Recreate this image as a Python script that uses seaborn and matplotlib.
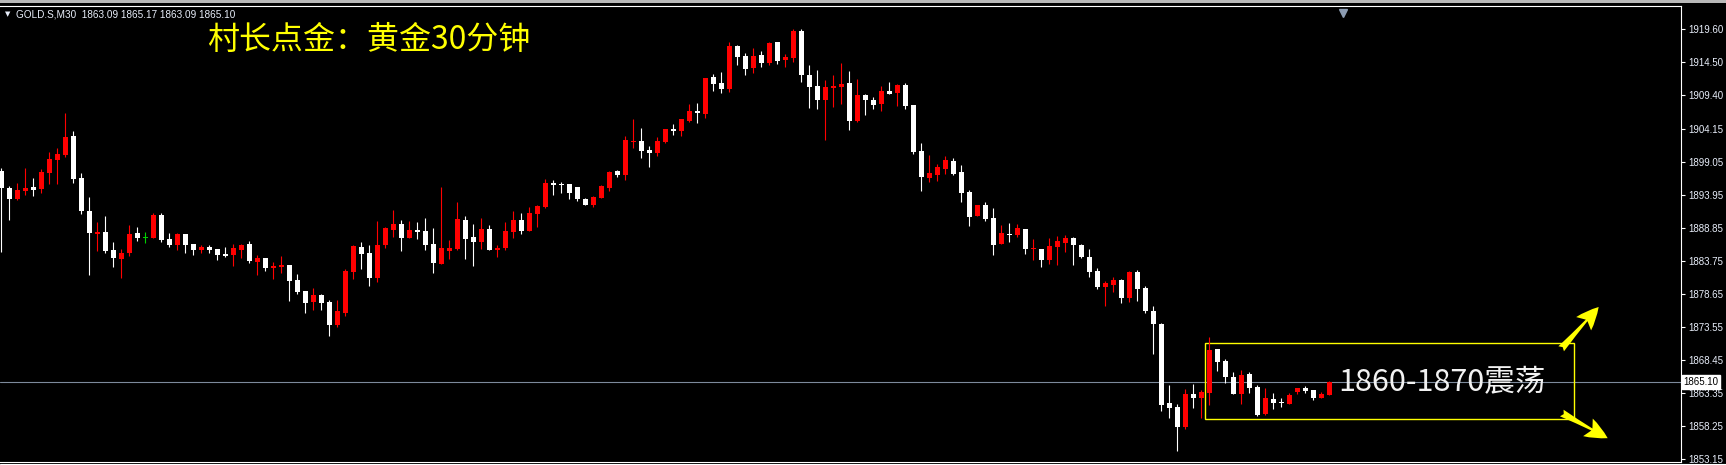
import numpy as np
import pandas as pd
import matplotlib
matplotlib.use("Agg")
import matplotlib.pyplot as plt
import seaborn as sns
from matplotlib.patches import Rectangle, FancyArrowPatch
from matplotlib.lines import Line2D

# GOLD.S M30 candles (oldest first)
opens = [
    1897.70, 1895.12, 1893.32, 1894.61, 1895.23, 1894.92, 1897.39, 1899.40, 1900.12, 1903.16,
    1896.62, 1891.57, 1887.96, 1888.27, 1885.49, 1884.10, 1885.08, 1888.07, 1887.45, 1887.40,
    1890.90, 1887.24, 1886.26, 1887.96, 1886.42, 1885.54, 1886.01, 1885.64, 1884.87, 1884.72,
    1885.54, 1886.47, 1883.69, 1884.25, 1882.76, 1882.86, 1883.17, 1880.85, 1879.15, 1877.50,
    1878.53, 1877.45, 1873.90, 1875.70, 1882.14, 1885.95, 1885.03, 1881.21, 1886.26, 1888.58,
    1889.51, 1887.35, 1888.58, 1888.43, 1886.42, 1883.38, 1885.39, 1885.64, 1890.13, 1887.50,
    1886.73, 1888.74, 1885.54, 1885.80, 1888.27, 1890.13, 1888.43, 1891.05, 1892.14, 1895.85,
    1895.74, 1895.69, 1895.23, 1893.37, 1892.45, 1893.53, 1895.07, 1897.70, 1897.08, 1902.18,
    1902.34, 1900.95, 1900.48, 1902.18, 1904.19, 1903.88, 1905.43, 1906.97, 1906.51, 1912.23,
    1911.30, 1910.37, 1917.02, 1915.47, 1913.62, 1915.63, 1914.39, 1917.64, 1914.86, 1915.17,
    1919.34, 1912.54, 1910.84, 1908.67, 1910.53, 1910.68, 1911.30, 1905.43, 1909.45, 1908.67,
    1908.06, 1910.07, 1909.76, 1910.99, 1907.90, 1900.79, 1896.62, 1897.08, 1898.01, 1899.25,
    1897.55, 1894.45, 1890.75, 1892.45, 1890.44, 1886.42, 1887.96, 1887.81, 1888.74, 1885.64,
    1885.64, 1883.94, 1885.95, 1886.57, 1887.35, 1886.26, 1884.41, 1882.24, 1879.77, 1880.08,
    1880.85, 1878.07, 1882.09, 1879.62, 1876.06, 1874.05, 1861.84, 1861.22, 1858.13, 1863.23,
    1862.62, 1863.39, 1870.19, 1868.33, 1865.86, 1863.23, 1866.32, 1864.32, 1860.14, 1862.46,
    1862.00, 1861.69, 1863.54, 1864.16, 1863.85, 1862.62, 1863.09,
]
highs = [
    1898.11, 1895.43, 1895.90, 1898.22, 1896.67, 1898.01, 1900.64, 1901.26, 1906.66, 1903.88,
    1897.39, 1893.68, 1889.82, 1890.75, 1886.73, 1885.64, 1889.35, 1889.04, 1888.22, 1891.21,
    1891.21, 1888.12, 1888.12, 1887.96, 1886.42, 1886.26, 1886.26, 1885.64, 1885.95, 1886.42,
    1886.42, 1886.88, 1884.72, 1884.25, 1883.64, 1884.56, 1883.17, 1881.78, 1879.15, 1879.62,
    1878.69, 1877.76, 1877.76, 1882.60, 1886.26, 1886.73, 1886.26, 1889.97, 1889.04, 1891.67,
    1890.13, 1889.97, 1889.82, 1890.44, 1888.89, 1895.23, 1887.04, 1892.91, 1890.75, 1889.51,
    1890.44, 1889.35, 1886.26, 1889.82, 1891.52, 1891.21, 1892.14, 1892.45, 1896.46, 1896.31,
    1896.00, 1895.69, 1895.23, 1893.53, 1893.84, 1895.54, 1897.70, 1897.85, 1903.11, 1905.74,
    1904.35, 1901.56, 1902.96, 1904.19, 1904.96, 1905.74, 1908.06, 1908.21, 1912.07, 1912.69,
    1913.00, 1917.64, 1917.17, 1915.94, 1916.71, 1916.25, 1917.64, 1917.64, 1915.78, 1919.65,
    1919.65, 1914.08, 1913.31, 1911.77, 1912.54, 1914.39, 1913.16, 1911.92, 1909.60, 1909.14,
    1910.84, 1911.46, 1911.15, 1911.30, 1907.90, 1902.03, 1900.17, 1898.78, 1900.02, 1899.71,
    1898.63, 1894.76, 1892.45, 1892.91, 1891.98, 1889.35, 1889.66, 1889.51, 1888.74, 1887.19,
    1885.64, 1887.35, 1887.65, 1887.81, 1887.50, 1886.42, 1885.64, 1882.71, 1880.70, 1881.32,
    1881.01, 1882.24, 1882.40, 1879.93, 1876.84, 1874.21, 1864.62, 1861.69, 1864.01, 1864.78,
    1863.85, 1872.04, 1870.19, 1868.64, 1866.63, 1866.94, 1866.63, 1864.62, 1864.16, 1863.39,
    1862.62, 1863.39, 1864.16, 1864.47, 1863.85, 1863.54, 1865.17,
]
lows = [
    1885.23, 1890.13, 1893.22, 1893.99, 1893.84, 1894.35, 1895.69, 1895.69, 1899.92, 1895.90,
    1891.11, 1881.63, 1885.39, 1885.08, 1882.91, 1881.21, 1884.61, 1886.93, 1886.52, 1887.35,
    1886.78, 1885.95, 1885.54, 1885.08, 1884.72, 1885.08, 1885.08, 1883.94, 1884.41, 1883.07,
    1884.31, 1883.48, 1881.63, 1882.30, 1880.96, 1881.99, 1877.66, 1878.74, 1875.80, 1876.22,
    1876.22, 1872.25, 1873.64, 1875.34, 1881.06, 1882.60, 1879.98, 1880.60, 1885.85, 1887.50,
    1885.39, 1887.35, 1887.19, 1885.54, 1881.99, 1883.38, 1884.15, 1885.54, 1884.15, 1883.07,
    1885.70, 1885.54, 1884.46, 1885.54, 1887.40, 1888.01, 1888.43, 1889.04, 1891.98, 1893.99,
    1894.30, 1893.37, 1893.06, 1892.45, 1892.14, 1893.53, 1894.61, 1896.77, 1896.31, 1901.26,
    1899.71, 1898.32, 1900.02, 1902.03, 1903.26, 1903.11, 1905.27, 1905.12, 1905.89, 1910.07,
    1909.76, 1909.91, 1914.08, 1912.54, 1912.85, 1913.77, 1914.08, 1914.24, 1913.77, 1914.55,
    1911.46, 1907.44, 1907.28, 1902.49, 1907.59, 1908.06, 1904.04, 1905.27, 1906.36, 1907.28,
    1906.97, 1909.60, 1907.75, 1907.28, 1900.33, 1894.61, 1896.00, 1896.15, 1897.24, 1897.08,
    1892.91, 1889.20, 1890.75, 1889.97, 1884.72, 1886.42, 1886.73, 1887.50, 1884.87, 1883.94,
    1882.86, 1883.33, 1883.17, 1885.18, 1883.17, 1884.25, 1881.32, 1879.46, 1876.84, 1879.00,
    1877.30, 1877.45, 1877.61, 1875.75, 1869.42, 1860.61, 1859.52, 1854.42, 1857.82, 1861.07,
    1859.52, 1861.53, 1866.79, 1864.93, 1863.23, 1861.69, 1863.39, 1859.83, 1859.99, 1860.91,
    1861.22, 1861.69, 1863.23, 1863.39, 1862.31, 1862.62, 1863.09,
]
closes = [
    1895.02, 1893.37, 1894.76, 1895.07, 1894.76, 1897.60, 1899.55, 1900.33, 1903.01, 1896.41,
    1891.47, 1888.17, 1888.32, 1885.39, 1884.25, 1885.03, 1887.96, 1887.35, 1887.45, 1890.90,
    1887.09, 1886.26, 1887.96, 1886.31, 1885.49, 1885.95, 1885.54, 1884.72, 1884.61, 1885.80,
    1886.26, 1883.79, 1884.25, 1882.76, 1883.07, 1883.17, 1880.75, 1879.05, 1877.35, 1878.53,
    1877.35, 1873.90, 1876.06, 1882.24, 1886.11, 1884.87, 1881.21, 1886.26, 1888.89, 1889.51,
    1887.35, 1888.58, 1888.32, 1886.26, 1883.48, 1885.80, 1885.80, 1890.28, 1887.19, 1886.73,
    1888.74, 1885.54, 1885.80, 1888.43, 1890.13, 1888.43, 1891.21, 1892.29, 1895.85, 1895.59,
    1895.49, 1894.30, 1893.37, 1892.45, 1893.68, 1895.38, 1897.55, 1897.08, 1902.49, 1902.34,
    1900.79, 1900.48, 1902.34, 1904.19, 1903.93, 1905.74, 1906.97, 1906.72, 1912.07, 1911.15,
    1910.37, 1917.02, 1915.32, 1913.47, 1915.47, 1914.39, 1917.48, 1914.70, 1915.32, 1919.34,
    1912.54, 1910.68, 1908.67, 1910.68, 1910.84, 1911.15, 1905.43, 1909.45, 1908.67, 1907.90,
    1910.07, 1909.60, 1910.99, 1907.75, 1900.64, 1896.77, 1897.39, 1898.32, 1899.40, 1897.24,
    1894.30, 1890.59, 1892.45, 1890.28, 1886.26, 1888.12, 1887.81, 1888.89, 1885.64, 1885.80,
    1883.94, 1886.11, 1886.88, 1887.35, 1886.26, 1884.41, 1882.09, 1879.77, 1880.39, 1880.85,
    1878.07, 1882.09, 1879.46, 1876.06, 1874.05, 1861.53, 1861.07, 1858.13, 1863.23, 1862.62,
    1863.54, 1870.03, 1868.18, 1865.86, 1863.23, 1866.17, 1864.16, 1859.99, 1862.62, 1861.84,
    1861.84, 1863.08, 1864.16, 1863.70, 1862.62, 1863.23, 1865.10,
]

yticks = [1919.60, 1914.50, 1909.40, 1904.15, 1899.05, 1893.95, 1888.85,
          1883.75, 1878.65, 1873.55, 1868.45, 1863.35, 1858.25, 1853.15]

header = "GOLD.S,M30  1863.09 1865.17 1863.09 1865.10"
title = "村长点金：黄金30分钟"
range_note = "1860-1870震荡"
range_low, range_high = 1859.3, 1871.1

W, H = 1726, 465

sns.set_style("dark", {"axes.facecolor": "black", "figure.facecolor": "black",
                       "axes.grid": False})
plt.rcParams['font.family'] = ['Noto Sans CJK SC', 'DejaVu Sans']

df = pd.DataFrame({"open": opens, "high": highs, "low": lows, "close": closes})
df["x"] = np.arange(len(df))
df["color"] = np.where(df["close"] > df["open"], "#ff0000",
                       np.where(df["close"] < df["open"], "#ffffff", "#00d000"))

fig = plt.figure(figsize=(W / 100, H / 100), dpi=100, facecolor="black")
ax = fig.add_axes([0, (H - 461.5) / H, 1681 / W, (461.5 - 6) / H])
ax.set_facecolor("black")

# wicks and bodies
ax.vlines(df["x"], df["low"], df["high"], colors=df["color"], linewidth=0.8)
body = (df["close"] - df["open"]).abs()
mid = (df["close"] + df["open"]) / 2
body_h = body.clip(lower=0.16)
ax.bar(df["x"], body_h, bottom=mid - body_h / 2, width=0.62,
       color=df["color"], linewidth=0)

# last price line + label
last = closes[-1]
ax.axhline(last, color="#7d8a9b", linewidth=0.8, zorder=0)
ax.text(1.0015, last, f"{last:.2f}", transform=ax.get_yaxis_transform(),
        ha="left", va="center", fontsize=7, color="black",
        family=["Liberation Sans", "DejaVu Sans"],
        bbox=dict(boxstyle="square,pad=0.2", facecolor="white", edgecolor="white"),
        clip_on=False)

# range box, note and arrows
ax.add_patch(Rectangle((150.4, range_low), 46.2, range_high - range_low,
                       fill=False, edgecolor="#ffff00", linewidth=1.0))
for tail, tip in [((194.75, 1869.9), (199.9, 1877.0)),
                  ((194.75, 1860.5), (201.1, 1856.2))]:
    ax.add_patch(FancyArrowPatch(tail, tip,
                                 arrowstyle="fancy,head_length=0.9,head_width=0.8,tail_width=0.3",
                                 mutation_scale=18, color="#ffff00", linewidth=0))

ax.set_xlim(-0.1625, 209.96)
ax.set_ylim(1852.8, 1923.2)

ax.yaxis.tick_right()
ax.set_yticks(yticks)
ax.set_yticklabels([f"{v:.2f}" for v in yticks],
                   family=["Liberation Sans", "DejaVu Sans"])
ax.tick_params(axis="y", colors="white", labelcolor="#e8eefa", length=3,
               width=0.8, pad=2, labelsize=7, direction="out")
ax.set_xticks([])
for side in ["top", "right", "bottom"]:
    ax.spines[side].set_color("white")
    ax.spines[side].set_linewidth(0.8)
ax.spines["left"].set_visible(False)

# chart shift marker at the top
ax.plot([167.7], [0.985], marker="v", markersize=6, color="#8c9cb2",
        transform=ax.get_xaxis_transform(), clip_on=False)

# window chrome
fig.add_artist(Rectangle((0, 1 - 2.8 / H), 1, 2.8 / H, transform=fig.transFigure,
                         facecolor="#b8b8b8", edgecolor="none"))
fig.add_artist(Line2D([0, 1], [1 - 464 / H, 1 - 464 / H], transform=fig.transFigure,
                      color="white", linewidth=0.8))

# texts
fig.text(8 / W, 1 - 14.5 / H, "▼", color="#e8eefa", fontsize=5, ha="center", va="center",
         family=["DejaVu Sans"])
fig.text(16 / W, 1 - 14.5 / H, header, color="#e8eefa", fontsize=7.2, ha="left", va="center",
         family=["Liberation Sans", "DejaVu Sans"])
fig.text(207 / W, 1 - 40 / H, title, color="#ffff00", fontsize=23, ha="left", va="center")
fig.text(1338 / W, 1 - 383 / H, range_note, color="#f2f2f2", fontsize=22,
         ha="left", va="center")

fig.savefig("out.png", dpi=100, facecolor="black")
